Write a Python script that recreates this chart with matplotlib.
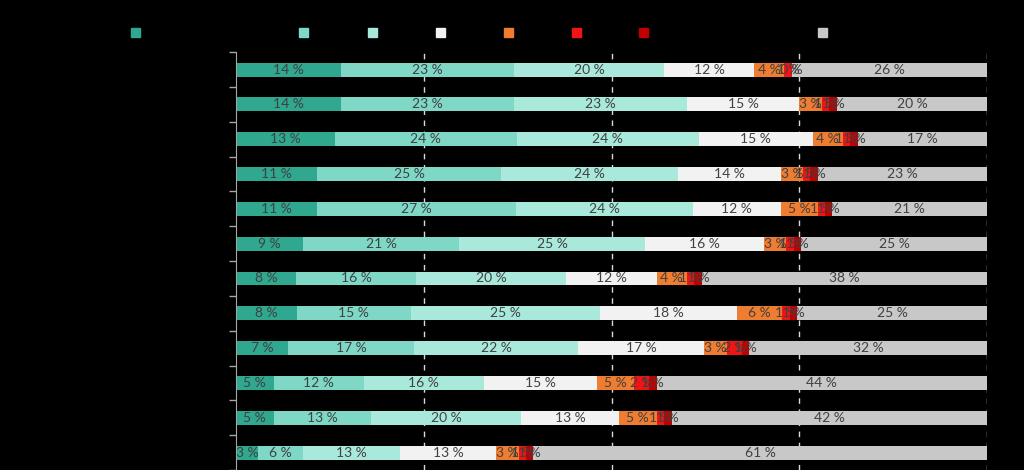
import numpy as np
import matplotlib
matplotlib.use("Agg")
import matplotlib.pyplot as plt
from matplotlib.patches import Rectangle

# values per category (rows top to bottom), as shown in the bar labels (%)
seg1 = [14, 14, 13, 11, 11, 9, 8, 8, 7, 5, 5, 3]
seg2 = [23, 23, 24, 25, 27, 21, 16, 15, 17, 12, 13, 6]
seg3 = [20, 23, 24, 24, 24, 25, 20, 25, 22, 16, 20, 13]
seg4 = [12, 15, 15, 14, 12, 16, 12, 18, 17, 15, 13, 13]
seg5 = [4, 3, 4, 3, 5, 3, 4, 6, 3, 5, 5, 3]
seg6 = [1, 1, 1, 1, 1, 1, 1, 1, 2, 2, 1, 1]
seg7 = [0, 1, 1, 1, 1, 1, 1, 1, 1, 1, 1, 1]
seg8 = [26, 20, 17, 23, 21, 25, 38, 25, 32, 44, 42, 61]

colors = ['#2fa88f', '#7fd8c6', '#a9e9dc', '#f2f2f2', '#ee7d31', '#f01414', '#c00000', '#c8c8c8']

series = [seg1, seg2, seg3, seg4, seg5, seg6, seg7, seg8]
data = np.array(series, dtype=float)
# rounded labels don't always add up to 100, scale rows so the bars fill the axis
widths = data / data.sum(axis=0) * 100

plt.rcParams['font.family'] = ['Lato', 'DejaVu Sans']

fig = plt.figure(figsize=(10.24, 4.70), dpi=100, facecolor='black')
ax = fig.add_axes([0.2305, 0.0, 0.7334, 0.889])
ax.set_facecolor('black')

n = data.shape[1]
y = np.arange(n)
left = np.zeros(n)
for i, (w, vals) in enumerate(zip(widths, data)):
    ax.barh(y, w, left=left, height=0.4, color=colors[i], zorder=2)
    for j in range(n):
        ax.text(left[j] + w[j] / 2, y[j], f"{int(vals[j])} %", ha='center', va='center',
                fontsize=10, color='#404040', zorder=3)
    left += w

ax.set_xlim(0, 100)
ax.set_ylim(n - 0.5, -0.5)
ax.set_xticks([25, 50, 75, 100])
ax.xaxis.grid(True, linestyle=(0, (4, 4)), color='#d9d9d9', linewidth=1, zorder=0)
ax.tick_params(axis='x', length=0, labelbottom=False)
ax.set_yticks(np.arange(-0.5, n, 1))
ax.set_yticklabels([])
ax.tick_params(axis='y', length=5, color='#a6a6a6', width=1)
for s in ['top', 'right', 'bottom']:
    ax.spines[s].set_visible(False)
ax.spines['left'].set_color('#a6a6a6')

# legend swatches
leg_x = [135, 303, 372, 440, 508, 576, 643, 822]
for x, c in zip(leg_x, colors):
    fig.add_artist(Rectangle(((x - 4.5) / 1024, 1 - 36.5 / 470), 9 / 1024, 9 / 470,
                             transform=fig.transFigure, color=c))

plt.savefig('out.png', dpi=100, facecolor='black')
